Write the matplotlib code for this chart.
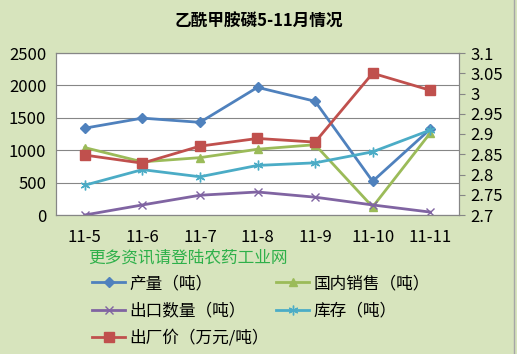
import matplotlib.pyplot as plt
from matplotlib.lines import Line2D

plt.rcParams['font.family'] = ['Noto Sans CJK SC', 'DejaVu Sans']

months = ['11-5', '11-6', '11-7', '11-8', '11-9', '11-10', '11-11']
output = [1340, 1495, 1430, 1970, 1755, 520, 1325]
domestic = [1040, 820, 885, 1015, 1085, 125, 1265]
export = [0, 155, 305, 355, 275, 155, 45]
stock = [460, 700, 590, 765, 805, 975, 1310]
price = [2.848, 2.828, 2.870, 2.889, 2.880, 3.050, 3.008]

bg = '#D7E4BD'
fig = plt.figure(figsize=(5.17, 3.54), dpi=100, facecolor=bg)
ax = fig.add_axes([56 / 517, 1 - 215 / 354, 403 / 517, 162 / 354])
ax.set_facecolor('white')
x = list(range(len(months)))

ax.plot(x, output, color='#4F81BD', marker='D', ms=5, lw=2, label='产量（吨）')
ax.plot(x, domestic, color='#9BBB59', marker='^', ms=6, lw=2, label='国内销售（吨）')
ax.plot(x, export, color='#8064A2', marker='x', ms=6, mew=1, lw=2, label='出口数量（吨）')
ax.plot(x, stock, color='#4BACC6', marker=(6, 2, 0), ms=7, mew=1, lw=2, label='库存（吨）')

ax2 = ax.twinx()
ax2.plot(x, price, color='#C0504D', marker='s', ms=7, lw=2, label='出厂价（万元/吨）')

ax.set_xlim(-0.5, len(months) - 0.5)
ax.set_ylim(0, 2500)
ax.set_yticks(range(0, 2501, 500))
ax2.set_ylim(2.7, 3.1)
ax2.set_yticks([2.7, 2.75, 2.8, 2.85, 2.9, 2.95, 3.0, 3.05, 3.1])
ax2.set_yticklabels(['2.7', '2.75', '2.8', '2.85', '2.9', '2.95', '3', '3.05', '3.1'])
ax.set_xticks(x)
ax.set_xticklabels(months)
ax.grid(axis='y', color='#868686', lw=0.8)
ax.set_axisbelow(True)

for a in (ax, ax2):
    for s in a.spines.values():
        s.set_color('#868686')
    a.tick_params(labelsize=12, colors='black', length=0, pad=7)
ax.tick_params(axis='x', pad=10)
ax2.tick_params(axis='y', length=4, direction='out', color='#868686', pad=4)

fig.text(0.5, 1 - 22 / 354, '乙酰甲胺磷5-11月情况', ha='center', va='center',
         fontsize=12, fontweight='bold')
fig.text(88 / 517, 1 - 258 / 354, '更多资讯请登陆农药工业网', ha='left', va='center',
         fontsize=12, color='#2EB04A')

h1, l1 = ax.get_legend_handles_labels()
h2, l2 = ax2.get_legend_handles_labels()
leg_kw = dict(loc='upper left', frameon=False, fontsize=12, handlelength=2.0,
              labelspacing=0.62, handletextpad=0.25, borderpad=0, borderaxespad=0)
# two separate legends so the columns line up like the original
fig.legend([h1[0], h1[2], h2[0]], [l1[0], l1[2], l2[0]],
           bbox_to_anchor=(92 / 517, 1 - 275 / 354), **leg_kw)
fig.legend([h1[1], h1[3]], [l1[1], l1[3]],
           bbox_to_anchor=(276 / 517, 1 - 275 / 354), **leg_kw)

fig.add_artist(Line2D([514 / 517, 514 / 517], [0, 1], color='#A6A6A6', lw=1))

fig.savefig('out.png', dpi=100, facecolor=bg)
